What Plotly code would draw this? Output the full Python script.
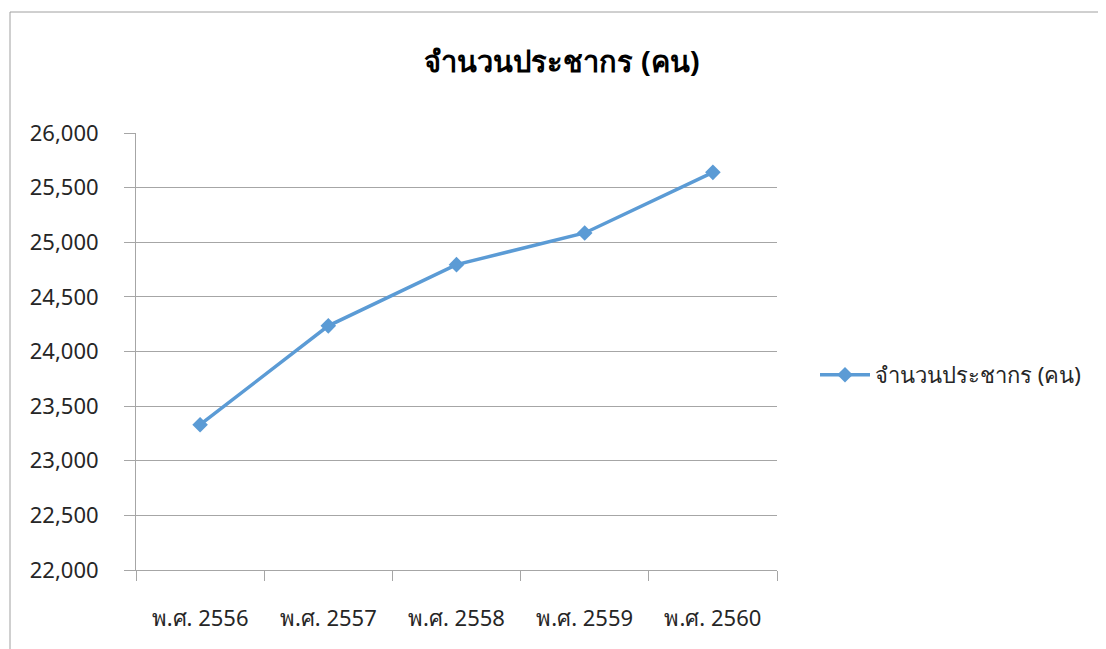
import plotly.graph_objects as go

categories = ["พ.ศ. 2556", "พ.ศ. 2557", "พ.ศ. 2558", "พ.ศ. 2559", "พ.ศ. 2560"]
population = [23330, 24235, 24795, 25085, 25640]
series_name = "จำนวนประชากร (คน)"
title_text = "จำนวนประชากร (คน)"

FONT = "Tahoma, 'Noto Sans', 'DejaVu Sans', sans-serif"
GRID = "#A6A6A6"

# page body has an 8px margin; compensate so the plot lands where the reference has it
OFF = 8
W, H = 1106 - OFF, 649 - OFF
L, T = 136 - OFF, 133 - OFF
PW, PH = 641, 437

fig = go.Figure()
fig.add_trace(go.Scatter(
    x=categories, y=population, name=series_name,
    mode="lines+markers",
    line=dict(color="#5B9BD5", width=3.5),
    marker=dict(symbol="diamond", size=12, color="#5B9BD5"),
))

fig.update_layout(
    width=W, height=H,
    margin=dict(l=L, r=W - L - PW, t=T, b=H - T - PH, autoexpand=False),
    paper_bgcolor="white", plot_bgcolor="white",
    font=dict(family=FONT, size=22, color="#262626"),
    title=dict(text="<b>" + title_text + "</b>", x=(562 - OFF) / W, xanchor="center",
               y=1 - (62 - OFF) / H, yanchor="middle",
               font=dict(family=FONT, size=29, color="#000000")),
    showlegend=True,
    legend=dict(x=(815 - 136) / PW, y=(570 - 375) / PH, xanchor="left", yanchor="middle",
                font=dict(family=FONT, size=22, color="#262626"),
                itemwidth=50,
                bgcolor="rgba(0,0,0,0)"),
    xaxis=dict(
        type="category", tickson="boundaries",
        showgrid=False, showline=True, linecolor=GRID, linewidth=1,
        ticks="outside", ticklen=10, tickcolor=GRID,
        ticklabelstandoff=29,
        range=[-0.5, 4.5],
    ),
    yaxis=dict(
        range=[22000, 26000], dtick=500, tickformat=",",
        showgrid=True, gridcolor=GRID, gridwidth=1,
        showline=True, linecolor=GRID, linewidth=1,
        ticks="outside", ticklen=11, tickcolor=GRID,
        ticklabelstandoff=21,
        zeroline=False,
    ),
)

# outer chart border
fig.add_shape(type="rect", xref="paper", yref="paper",
              x0=(10 - 136) / PW, x1=(1103 - 136) / PW,
              y0=-0.3, y1=(570 - 12) / PH,
              line=dict(color="#A0A0A0", width=1), layer="below")

fig.write_html("out.html")
